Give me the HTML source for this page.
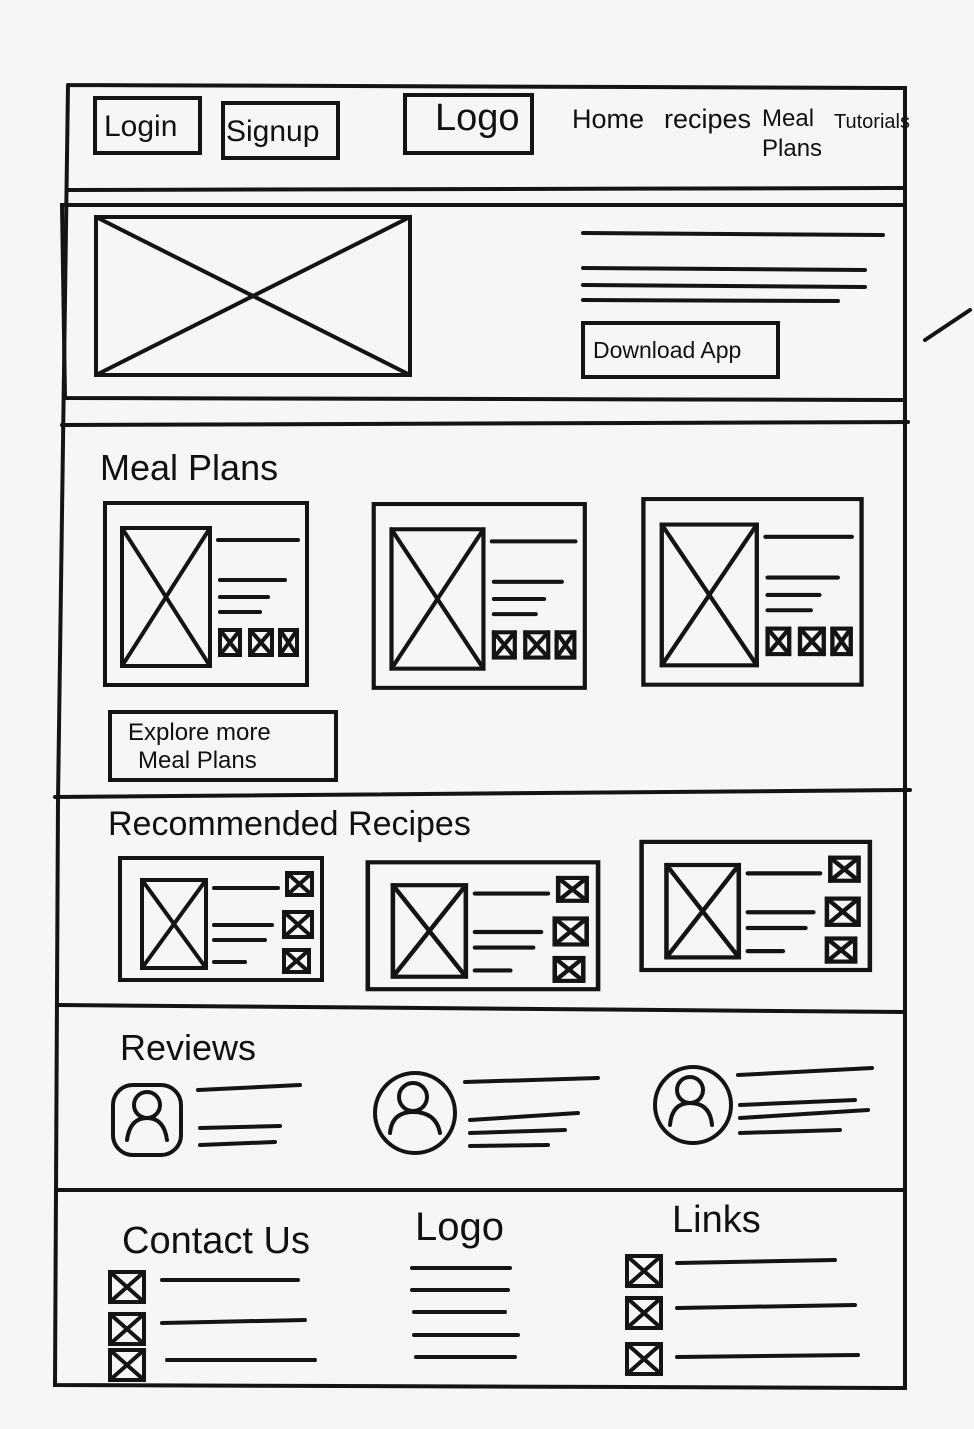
<!DOCTYPE html>
<html><head><meta charset="utf-8"><style>
html,body{margin:0;padding:0;background:#f6f6f4;}
svg{display:block}
text{font-family:"Liberation Sans",sans-serif;fill:#111;}
</style></head><body>
<svg width="974" height="1429" viewBox="0 0 974 1429" xmlns="http://www.w3.org/2000/svg">
<rect width="974" height="1429" fill="#f6f6f4"/>
<g stroke="#141414" stroke-width="4" fill="none" stroke-linecap="round">
<path d="M68 85 L905 88 L905 1388 L55 1385 L58 800 L68 85"/>
<line x1="68" y1="190" x2="905" y2="188"/>
<rect x="95" y="98" width="105" height="55"/>
<rect x="223" y="103" width="115" height="55"/>
<rect x="405" y="95" width="127" height="58"/>
<path d="M62 205 L905 205 L905 400 L65 398 Z"/>
<rect x="96" y="217" width="314" height="158"/>
<line x1="96" y1="217" x2="410" y2="375"/><line x1="410" y1="217" x2="96" y2="375"/>
<line x1="583" y1="233" x2="883" y2="235"/>
<line x1="583" y1="268" x2="865" y2="270"/>
<line x1="583" y1="285" x2="865" y2="287"/>
<line x1="583" y1="300" x2="838" y2="301"/>
<rect x="583" y="323" width="195" height="54"/>
<line x1="925" y1="340" x2="940" y2="330"/><line x1="940" y1="330" x2="970" y2="310"/>
<line x1="62" y1="425" x2="908" y2="422"/>
<g id="mc">
<rect x="105" y="503" width="202" height="182"/>
<rect x="122" y="528" width="88" height="138"/>
<line x1="122" y1="528" x2="210" y2="666"/><line x1="210" y1="528" x2="122" y2="666"/>
<line x1="218" y1="540" x2="298" y2="540"/>
<line x1="220" y1="580" x2="285" y2="580"/>
<line x1="220" y1="597" x2="268" y2="597"/>
<line x1="220" y1="612" x2="260" y2="612"/>
<rect x="220" y="630" width="20" height="25"/><line x1="220" y1="630" x2="240" y2="655"/><line x1="240" y1="630" x2="220" y2="655"/>
<rect x="250" y="630" width="22" height="25"/><line x1="250" y1="630" x2="272" y2="655"/><line x1="272" y1="630" x2="250" y2="655"/>
<rect x="280" y="630" width="17" height="25"/><line x1="280" y1="630" x2="297" y2="655"/><line x1="297" y1="630" x2="280" y2="655"/>
</g>
<use href="#mc" transform="translate(264,-4) scale(1.045,1.01)"/>
<use href="#mc" transform="translate(530,-14) scale(1.08,1.02)"/>
<rect x="110" y="712" width="226" height="68"/>
<line x1="55" y1="797" x2="910" y2="790"/>
<g id="rc">
<rect x="120" y="858" width="202" height="122"/>
<rect x="142" y="880" width="64" height="88"/>
<line x1="142" y1="880" x2="206" y2="968"/><line x1="206" y1="880" x2="142" y2="968"/>
<line x1="214" y1="888" x2="278" y2="888"/>
<line x1="214" y1="925" x2="272" y2="925"/>
<line x1="214" y1="940" x2="265" y2="940"/>
<line x1="214" y1="962" x2="245" y2="962"/>
<rect x="287" y="873" width="25" height="22"/><line x1="287" y1="873" x2="312" y2="895"/><line x1="312" y1="873" x2="287" y2="895"/>
<rect x="284" y="912" width="28" height="25"/><line x1="284" y1="912" x2="312" y2="937"/><line x1="312" y1="912" x2="284" y2="937"/>
<rect x="284" y="950" width="25" height="22"/><line x1="284" y1="950" x2="309" y2="972"/><line x1="309" y1="950" x2="284" y2="972"/>
</g>
<use href="#rc" transform="translate(231,-30) scale(1.14,1.04)"/>
<use href="#rc" transform="translate(506,-59) scale(1.13,1.05)"/>
<line x1="58" y1="1005" x2="905" y2="1012"/>
<rect x="113" y="1085" width="68" height="70" rx="20"/>
<circle cx="147" cy="1105" r="13"/><path d="M127 1140 Q130 1118 147 1118 Q164 1118 167 1140"/>
<line x1="198" y1="1090" x2="300" y2="1085"/><line x1="200" y1="1128" x2="280" y2="1126"/><line x1="200" y1="1145" x2="275" y2="1142"/>
<circle cx="415" cy="1113" r="40"/><circle cx="413" cy="1097" r="14"/><path d="M390 1133 Q392 1112 413 1112 Q436 1112 440 1133"/>
<line x1="465" y1="1082" x2="598" y2="1078"/><line x1="470" y1="1120" x2="578" y2="1113"/><line x1="470" y1="1133" x2="565" y2="1130"/><line x1="470" y1="1146" x2="548" y2="1145"/>
<circle cx="693" cy="1105" r="38"/><circle cx="690" cy="1090" r="13"/><path d="M670 1125 Q672 1103 690 1103 Q710 1103 712 1125"/>
<line x1="738" y1="1075" x2="872" y2="1068"/><line x1="740" y1="1105" x2="855" y2="1100"/><line x1="740" y1="1118" x2="868" y2="1110"/><line x1="740" y1="1133" x2="840" y2="1130"/>
<line x1="58" y1="1190" x2="905" y2="1190"/>
<g id="cb"><rect x="110" y="1272" width="34" height="30"/><line x1="110" y1="1272" x2="144" y2="1302"/><line x1="144" y1="1272" x2="110" y2="1302"/></g>
<use href="#cb" transform="translate(0,42)"/><use href="#cb" transform="translate(0,78)"/>
<line x1="162" y1="1280" x2="298" y2="1280"/><line x1="162" y1="1323" x2="305" y2="1320"/><line x1="167" y1="1360" x2="315" y2="1360"/>
<line x1="412" y1="1268" x2="510" y2="1268"/><line x1="412" y1="1290" x2="508" y2="1290"/><line x1="414" y1="1312" x2="505" y2="1312"/><line x1="414" y1="1335" x2="518" y2="1335"/><line x1="416" y1="1357" x2="515" y2="1357"/>
<use href="#cb" transform="translate(517,-16)"/><use href="#cb" transform="translate(517,26)"/><use href="#cb" transform="translate(517,72)"/>
<line x1="677" y1="1263" x2="835" y2="1260"/><line x1="677" y1="1308" x2="855" y2="1305"/><line x1="677" y1="1357" x2="858" y2="1355"/>
</g>
<g font-size="30">
<text x="104" y="136">Login</text>
<text x="226" y="141">Signup</text>
<text x="435" y="130" font-size="38">Logo</text>
<text x="572" y="128" font-size="27">Home</text>
<text x="664" y="128" font-size="27">recipes</text>
<text x="762" y="126" font-size="24">Meal</text>
<text x="762" y="156" font-size="24">Plans</text>
<text x="834" y="128" font-size="20">Tutorials</text>
<text x="593" y="358" font-size="23">Download App</text>
<text x="100" y="480" font-size="36">Meal  Plans</text>
<text x="128" y="740" font-size="24">Explore more</text>
<text x="138" y="768" font-size="24">Meal Plans</text>
<text x="108" y="835" font-size="34">Recommended  Recipes</text>
<text x="120" y="1060" font-size="36">Reviews</text>
<text x="122" y="1253" font-size="38">Contact Us</text>
<text x="415" y="1240" font-size="40">Logo</text>
<text x="672" y="1232" font-size="38">Links</text>
</g>
</svg>
</body></html>
